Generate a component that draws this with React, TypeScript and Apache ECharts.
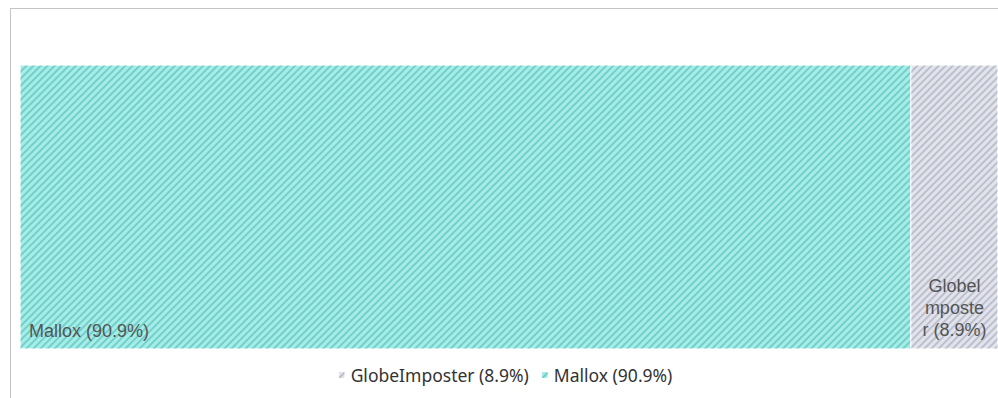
import React, { useEffect, useRef } from "react";
import * as echarts from "echarts";

const categories = ["share"];
const seriesNames = ["Mallox", "GlobeImposter"];
const seriesValues = [90.9, 8.9];
const legendOrder = ["GlobeImposter", "Mallox"];
const legendLabels: Record<string, string> = {
  GlobeImposter: "GlobeImposter (8.9%)",
  Mallox: "Mallox (90.9%)",
};

const baseColors = ["#a6ede8", "#e2e3eb"];
const decalColors = ["#72d0ca", "#bcbfcd"];

export default function App() {
  const ref = useRef<HTMLDivElement>(null);
  useEffect(() => {
    if (!ref.current) return;
    const chart = echarts.init(ref.current, undefined, { renderer: "svg" });
    const total = seriesValues.reduce((a, b) => a + b, 0);
    const series = seriesNames.map((name, i) => ({
      name,
      type: "bar",
      stack: "all",
      barWidth: "100%",
      data: [seriesValues[i]],
      itemStyle: {
        color: baseColors[i],
        borderColor: "#ffffff",
        borderWidth: 0.5,
        decal: {
          symbol: "rect",
          symbolSize: 1,
          color: decalColors[i],
          dashArrayX: [1, 0],
          dashArrayY: [1.5, 2.5],
          rotation: -Math.PI / 4,
        },
      },
      label:
        i === 0
          ? {
              show: true,
              position: "insideBottomLeft",
              distance: 9,
              formatter: `${name} (${seriesValues[i]}%)`,
              fontFamily: "Liberation Sans, Arial, sans-serif",
              fontSize: 18,
              color: "#555",
            }
          : {
              show: true,
              position: "insideBottom",
              distance: 8,
              align: "center",
              formatter: "Globel\nmposte\nr (8.9%)",
              fontFamily: "Liberation Sans, Arial, sans-serif",
              fontSize: 18,
              lineHeight: 22,
              color: "#555",
            },
    }));
    chart.setOption({
      animation: false,
      legend: {
        data: legendOrder,
        bottom: 9,
        left: "center",
        itemWidth: 8,
        itemHeight: 8,
        itemGap: 11,
        icon: "roundRect",
        formatter: (n: string) => legendLabels[n],
        textStyle: { fontFamily: "Noto Sans", fontSize: 17.5, color: "#333" },
      },
      grid: { left: 9, right: 0, top: 56, height: 284 },
      xAxis: { type: "value", min: 0, max: total, show: false },
      yAxis: { type: "category", data: categories, show: false },
      series,
    });
    return () => chart.dispose();
  }, []);
  return (
    <div
      style={{
        position: "fixed",
        left: 10,
        top: 8,
        width: 988,
        height: 390,
        borderLeft: "1px solid #c4c4c4",
        borderTop: "1px solid #c4c4c4",
        background: "#fff",
      }}
    >
      <div ref={ref} style={{ width: 987, height: 389 }} />
    </div>
  );
}
